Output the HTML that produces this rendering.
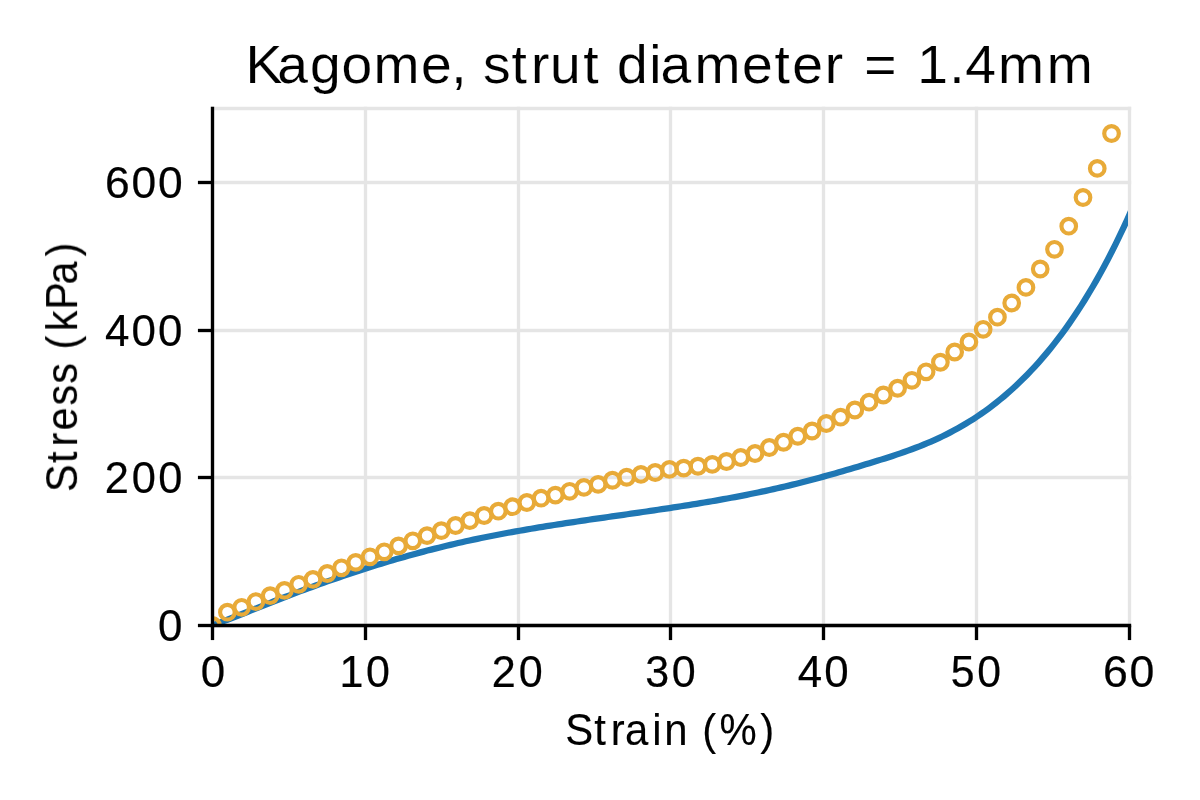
<!DOCTYPE html>
<html><head><meta charset="utf-8"><title>Kagome, strut diameter = 1.4mm</title>
<style>
html,body{margin:0;padding:0;background:#fff;}
body{width:1200px;height:800px;overflow:hidden;}
svg{display:block;}
text{font-family:"Liberation Sans",sans-serif;fill:#000;}
.t{will-change:transform;}
</style></head>
<body>
<svg width="1200" height="800" viewBox="0 0 1200 800">
<defs><clipPath id="ax"><rect x="212.5" y="108.5" width="915.50" height="517.00"/></clipPath></defs>
<rect width="1200" height="800" fill="#fff"/>
<g stroke="#e5e5e5" stroke-width="3.33" fill="none"><line x1="212.5" y1="106.83" x2="212.5" y2="625.5"/><line x1="365.5" y1="106.83" x2="365.5" y2="625.5"/><line x1="518.5" y1="106.83" x2="518.5" y2="625.5"/><line x1="670.5" y1="106.83" x2="670.5" y2="625.5"/><line x1="823.5" y1="106.83" x2="823.5" y2="625.5"/><line x1="976.5" y1="106.83" x2="976.5" y2="625.5"/><line x1="1129.5" y1="106.83" x2="1129.5" y2="625.5"/><line x1="210.84" y1="625.5" x2="1131.16" y2="625.5"/><line x1="210.84" y1="477.5" x2="1131.16" y2="477.5"/><line x1="210.84" y1="330.5" x2="1131.16" y2="330.5"/><line x1="210.84" y1="182.5" x2="1131.16" y2="182.5"/><line x1="210.84" y1="108.5" x2="1131.16" y2="108.5"/></g>
<g clip-path="url(#ax)">
<path d="M212.00,625.50 L215.85,624.07 L219.69,622.65 L223.54,621.20 L227.38,619.74 L231.23,618.26 L235.07,616.76 L238.92,615.26 L242.76,613.74 L246.61,612.22 L250.45,610.69 L254.30,609.15 L258.14,607.62 L261.99,606.09 L265.83,604.56 L269.68,603.03 L273.52,601.52 L277.37,600.01 L281.21,598.51 L285.06,597.03 L288.90,595.55 L292.75,594.09 L296.59,592.63 L300.44,591.19 L304.28,589.76 L308.13,588.34 L311.97,586.94 L315.82,585.54 L319.67,584.16 L323.51,582.78 L327.36,581.42 L331.20,580.08 L335.05,578.74 L338.89,577.42 L342.74,576.10 L346.58,574.81 L350.43,573.52 L354.27,572.25 L358.12,570.99 L361.96,569.74 L365.81,568.50 L369.65,567.28 L373.50,566.07 L377.34,564.88 L381.19,563.70 L385.03,562.53 L388.88,561.37 L392.72,560.23 L396.57,559.11 L400.41,557.99 L404.26,556.89 L408.10,555.81 L411.95,554.74 L415.79,553.68 L419.64,552.64 L423.49,551.62 L427.33,550.60 L431.18,549.61 L435.02,548.63 L438.87,547.66 L442.71,546.71 L446.56,545.77 L450.40,544.85 L454.25,543.94 L458.09,543.05 L461.94,542.18 L465.78,541.32 L469.63,540.48 L473.47,539.65 L477.32,538.83 L481.16,538.03 L485.01,537.25 L488.85,536.47 L492.70,535.71 L496.54,534.96 L500.39,534.23 L504.23,533.50 L508.08,532.79 L511.92,532.09 L515.77,531.40 L519.62,530.72 L523.46,530.05 L527.31,529.38 L531.15,528.73 L535.00,528.09 L538.84,527.45 L542.69,526.82 L546.53,526.20 L550.38,525.59 L554.22,524.98 L558.07,524.38 L561.91,523.79 L565.76,523.20 L569.60,522.62 L573.45,522.04 L577.29,521.47 L581.14,520.90 L584.98,520.33 L588.83,519.77 L592.67,519.21 L596.52,518.65 L600.36,518.10 L604.21,517.54 L608.05,516.99 L611.90,516.44 L615.74,515.89 L619.59,515.34 L623.44,514.79 L627.28,514.24 L631.13,513.69 L634.97,513.14 L638.82,512.58 L642.66,512.02 L646.51,511.47 L650.35,510.90 L654.20,510.34 L658.04,509.77 L661.89,509.20 L665.73,508.62 L669.58,508.04 L673.42,507.45 L677.27,506.86 L681.11,506.26 L684.96,505.66 L688.80,505.05 L692.65,504.43 L696.49,503.81 L700.34,503.17 L704.18,502.53 L708.03,501.88 L711.87,501.22 L715.72,500.56 L719.56,499.88 L723.41,499.19 L727.26,498.49 L731.10,497.78 L734.95,497.06 L738.79,496.33 L742.64,495.59 L746.48,494.83 L750.33,494.06 L754.17,493.28 L758.02,492.49 L761.86,491.68 L765.71,490.85 L769.55,490.02 L773.40,489.16 L777.24,488.29 L781.09,487.41 L784.93,486.51 L788.78,485.59 L792.62,484.66 L796.47,483.71 L800.31,482.74 L804.16,481.76 L808.00,480.76 L811.85,479.74 L815.69,478.72 L819.54,477.68 L823.38,476.62 L827.23,475.56 L831.08,474.48 L834.92,473.39 L838.77,472.29 L842.61,471.18 L846.46,470.06 L850.30,468.93 L854.15,467.79 L857.99,466.65 L861.84,465.49 L865.68,464.33 L869.53,463.16 L873.37,461.99 L877.22,460.81 L881.06,459.61 L884.91,458.40 L888.75,457.17 L892.60,455.92 L896.44,454.64 L900.29,453.34 L904.13,452.01 L907.98,450.64 L911.82,449.23 L915.67,447.78 L919.51,446.29 L923.36,444.75 L927.21,443.16 L931.05,441.51 L934.90,439.81 L938.74,438.05 L942.59,436.22 L946.43,434.33 L950.28,432.37 L954.12,430.34 L957.97,428.23 L961.81,426.05 L965.66,423.79 L969.50,421.45 L973.35,419.02 L977.19,416.50 L981.04,413.90 L984.88,411.20 L988.73,408.41 L992.57,405.52 L996.42,402.53 L1000.26,399.44 L1004.11,396.24 L1007.95,392.94 L1011.80,389.52 L1015.64,385.99 L1019.49,382.35 L1023.33,378.58 L1027.18,374.70 L1031.03,370.69 L1034.87,366.56 L1038.72,362.30 L1042.56,357.90 L1046.41,353.37 L1050.25,348.71 L1054.10,343.90 L1057.94,338.94 L1061.79,333.83 L1065.63,328.57 L1069.48,323.14 L1073.32,317.55 L1077.17,311.80 L1081.01,305.87 L1084.86,299.77 L1088.70,293.48 L1092.55,287.01 L1096.39,280.36 L1100.24,273.51 L1104.08,266.46 L1107.93,259.21 L1111.77,251.76 L1115.62,244.10 L1119.46,236.22 L1123.31,228.13 L1127.15,219.82 L1131.00,211.28" fill="none" stroke="#1f77b4" stroke-width="6.25" stroke-linejoin="round" stroke-linecap="square"/>
<g fill="none" stroke="#e8aa38" stroke-width="4.17"><circle cx="212.50" cy="625.50" r="7.3"/><circle cx="227.40" cy="612.20" r="7.3"/><circle cx="241.66" cy="607.30" r="7.3"/><circle cx="255.92" cy="601.55" r="7.3"/><circle cx="270.18" cy="595.60" r="7.3"/><circle cx="284.44" cy="590.40" r="7.3"/><circle cx="298.70" cy="584.30" r="7.3"/><circle cx="312.96" cy="579.40" r="7.3"/><circle cx="327.22" cy="573.50" r="7.3"/><circle cx="341.48" cy="567.80" r="7.3"/><circle cx="355.74" cy="562.40" r="7.3"/><circle cx="370.00" cy="556.80" r="7.3"/><circle cx="384.26" cy="551.80" r="7.3"/><circle cx="398.52" cy="545.90" r="7.3"/><circle cx="412.78" cy="540.80" r="7.3"/><circle cx="427.04" cy="535.60" r="7.3"/><circle cx="441.30" cy="530.60" r="7.3"/><circle cx="455.56" cy="525.50" r="7.3"/><circle cx="469.82" cy="520.65" r="7.3"/><circle cx="484.08" cy="515.50" r="7.3"/><circle cx="498.34" cy="511.20" r="7.3"/><circle cx="512.60" cy="506.70" r="7.3"/><circle cx="526.86" cy="502.50" r="7.3"/><circle cx="541.12" cy="498.20" r="7.3"/><circle cx="555.38" cy="495.10" r="7.3"/><circle cx="569.64" cy="491.30" r="7.3"/><circle cx="583.90" cy="487.40" r="7.3"/><circle cx="598.16" cy="484.40" r="7.3"/><circle cx="612.42" cy="480.25" r="7.3"/><circle cx="626.68" cy="477.25" r="7.3"/><circle cx="640.94" cy="474.40" r="7.3"/><circle cx="655.20" cy="472.50" r="7.3"/><circle cx="669.46" cy="469.40" r="7.3"/><circle cx="683.72" cy="468.10" r="7.3"/><circle cx="697.98" cy="466.25" r="7.3"/><circle cx="712.24" cy="464.40" r="7.3"/><circle cx="726.50" cy="461.50" r="7.3"/><circle cx="740.76" cy="457.50" r="7.3"/><circle cx="755.02" cy="453.50" r="7.3"/><circle cx="769.28" cy="447.50" r="7.3"/><circle cx="783.54" cy="442.25" r="7.3"/><circle cx="797.80" cy="436.25" r="7.3"/><circle cx="812.06" cy="431.00" r="7.3"/><circle cx="826.32" cy="423.50" r="7.3"/><circle cx="840.58" cy="417.20" r="7.3"/><circle cx="854.84" cy="410.00" r="7.3"/><circle cx="869.10" cy="402.20" r="7.3"/><circle cx="883.36" cy="395.00" r="7.3"/><circle cx="897.62" cy="388.25" r="7.3"/><circle cx="911.88" cy="380.30" r="7.3"/><circle cx="926.14" cy="371.80" r="7.3"/><circle cx="940.40" cy="362.25" r="7.3"/><circle cx="954.66" cy="352.00" r="7.3"/><circle cx="968.92" cy="342.00" r="7.3"/><circle cx="983.18" cy="329.30" r="7.3"/><circle cx="997.44" cy="317.20" r="7.3"/><circle cx="1011.70" cy="303.00" r="7.3"/><circle cx="1025.96" cy="287.40" r="7.3"/><circle cx="1040.22" cy="269.00" r="7.3"/><circle cx="1054.48" cy="249.30" r="7.3"/><circle cx="1068.74" cy="226.20" r="7.3"/><circle cx="1083.00" cy="197.50" r="7.3"/><circle cx="1097.26" cy="168.40" r="7.3"/><circle cx="1111.52" cy="133.50" r="7.3"/></g>
</g>
<g stroke="#000" stroke-width="3.33" fill="none" stroke-linecap="square">
<line x1="212.5" y1="108.5" x2="212.5" y2="625.5"/>
<line x1="212.5" y1="625.5" x2="1129.5" y2="625.5"/>
</g>
<g stroke="#000" stroke-width="3.33" fill="none"><line x1="212.5" y1="625.5" x2="212.5" y2="640.08"/><line x1="365.5" y1="625.5" x2="365.5" y2="640.08"/><line x1="518.5" y1="625.5" x2="518.5" y2="640.08"/><line x1="670.5" y1="625.5" x2="670.5" y2="640.08"/><line x1="823.5" y1="625.5" x2="823.5" y2="640.08"/><line x1="976.5" y1="625.5" x2="976.5" y2="640.08"/><line x1="1129.5" y1="625.5" x2="1129.5" y2="640.08"/><line x1="197.92" y1="625.5" x2="212.5" y2="625.5"/><line x1="197.92" y1="477.5" x2="212.5" y2="477.5"/><line x1="197.92" y1="330.5" x2="212.5" y2="330.5"/><line x1="197.92" y1="182.5" x2="212.5" y2="182.5"/></g>
<g class="t"><text transform="scale(1.0420,1)" x="235.50 266.03 297.56 327.74 358.57 404.01 433.18 448.66 463.51 490.82 509.62 527.82 559.77 576.68 592.16 623.19 633.82 666.55 711.99 743.29 760.32 791.62 809.45 829.34 864.90 880.38 910.93 926.46 957.89 1004.63" y="83.00" font-size="53" stroke="#fff" stroke-width="0.16">Kagome, strut diameter = 1.4mm</text><text transform="scale(0.9948,1)" x="158.84" y="640.90" font-size="44.15" stroke="#000" stroke-width="0.23">0</text><text transform="scale(0.9833,1)" x="106.43 133.92 160.86" y="492.90" font-size="44.15" stroke="#000" stroke-width="0.23">200</text><text transform="scale(0.9949,1)" x="105.59 132.21 158.83" y="345.90" font-size="44.15" stroke="#000" stroke-width="0.23">400</text><text transform="scale(1.0062,1)" x="104.27 130.59 156.91" y="197.90" font-size="44.15" stroke="#000" stroke-width="0.23">600</text><text transform="scale(0.9948,1)" x="201.82" y="687.00" font-size="44.15" stroke="#000" stroke-width="0.23">0</text><text transform="scale(0.9737,1)" x="348.57 375.98" y="687.00" font-size="44.15" stroke="#000" stroke-width="0.23">10</text><text transform="scale(0.9773,1)" x="503.21 530.87" y="687.00" font-size="44.15" stroke="#000" stroke-width="0.23">20</text><text transform="scale(0.9752,1)" x="661.63 688.73" y="687.00" font-size="44.15" stroke="#000" stroke-width="0.23">30</text><text transform="scale(0.9949,1)" x="801.82 828.44" y="687.00" font-size="44.15" stroke="#000" stroke-width="0.23">40</text><text transform="scale(0.9670,1)" x="983.18 1010.73" y="687.00" font-size="44.15" stroke="#000" stroke-width="0.23">50</text><text transform="scale(1.0119,1)" x="1090.12 1116.29" y="687.00" font-size="44.15" stroke="#000" stroke-width="0.23">60</text><text transform="scale(0.9484,1)" x="595.89 626.66 644.08 659.12 687.66 700.38 726.45 740.51 758.77 801.56" y="745.50" font-size="44.15" stroke="#000" stroke-width="0.12">Strain (%)</text><text transform="translate(77.1,491.75) rotate(-90) scale(0.9334,1)" x="-0.32 30.82 48.55 65.67 92.46 115.70 138.04 152.46 171.94 194.96 222.11 252.13" y="0" font-size="44.15" stroke="#000" stroke-width="0.12">Stress (kPa)</text></g>
</svg>
</body></html>
